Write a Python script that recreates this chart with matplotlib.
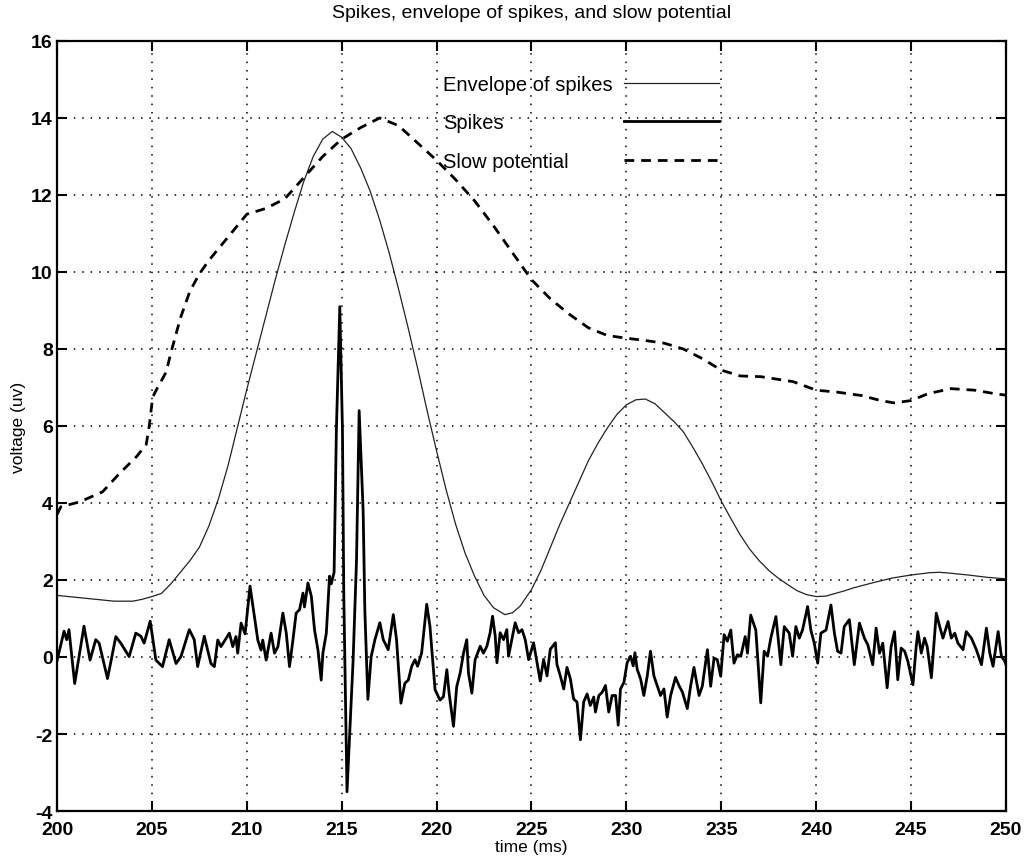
import matplotlib
matplotlib.use('Agg')
import matplotlib.pyplot as plt

# Data
# Spikes trace (time in ms, voltage in uv)
spike_t = [200.0, 200.37, 200.51, 200.63, 200.93, 201.42, 201.74, 202.04, 202.22, 202.66,
           203.10, 203.36, 203.80, 204.15, 204.42, 204.59, 204.91, 205.21, 205.56, 205.91,
           206.27, 206.53, 206.97, 207.23, 207.41, 207.76, 208.11, 208.29, 208.47, 208.64,
           209.08, 209.26, 209.43, 209.52, 209.70, 209.91, 210.17, 210.40, 210.58, 210.75,
           210.84, 211.02, 211.28, 211.46, 211.64, 211.90, 212.08, 212.25, 212.43, 212.60,
           212.78, 212.96, 213.04, 213.22, 213.40, 213.57, 213.75, 213.92, 214.01, 214.19,
           214.36, 214.45, 214.60, 214.72, 214.90, 215.04, 215.11, 215.28, 215.60, 215.78,
           215.92, 216.13, 216.22, 216.38, 216.55, 216.75, 217.01, 217.19, 217.45, 217.72,
           217.89, 218.12, 218.33, 218.51, 218.69, 218.86, 219.00, 219.21, 219.48, 219.65,
           219.92, 220.18, 220.36, 220.54, 220.66, 220.89, 221.06, 221.24, 221.42, 221.59,
           221.68, 221.86, 222.03, 222.30, 222.47, 222.65, 222.82, 222.95, 223.09, 223.18,
           223.35, 223.53, 223.70, 223.79, 224.14, 224.32, 224.50, 224.67, 224.85, 225.11,
           225.46, 225.64, 225.82, 225.99, 226.26, 226.34, 226.52, 226.70, 226.87, 227.05,
           227.22, 227.40, 227.58, 227.75, 227.93, 228.10, 228.28, 228.37, 228.55, 228.72,
           228.90, 229.07, 229.25, 229.43, 229.57, 229.69, 229.87, 230.04, 230.22, 230.36,
           230.45, 230.57, 230.75, 230.92, 231.10, 231.27, 231.45, 231.62, 231.80, 231.98,
           232.15, 232.33, 232.59, 232.77, 232.95, 233.21, 233.39, 233.56, 233.83, 234.00,
           234.27, 234.44, 234.62, 234.79, 234.97, 235.15, 235.32, 235.50, 235.67, 235.85,
           236.03, 236.26, 236.38, 236.55, 236.82, 237.08, 237.26, 237.44, 237.61, 237.88,
           238.14, 238.32, 238.58, 238.76, 238.93, 239.11, 239.28, 239.55, 239.72, 239.90,
           240.08, 240.25, 240.52, 240.78, 240.96, 241.13, 241.31, 241.48, 241.75, 242.01,
           242.28, 242.54, 242.72, 242.98, 243.16, 243.34, 243.51, 243.74, 243.95, 244.13,
           244.30, 244.48, 244.66, 244.83, 245.10, 245.27, 245.36, 245.54, 245.71, 245.85,
           246.07, 246.33, 246.51, 246.68, 246.95, 247.12, 247.30, 247.47, 247.74, 247.91,
           248.18, 248.44, 248.71, 248.97, 249.15, 249.32, 249.59, 249.76, 249.94, 250.0]
spike_v = [-0.10, 0.67, 0.45, 0.71, -0.69, 0.80, -0.08, 0.45, 0.36, -0.56,
           0.53, 0.36, 0.01, 0.62, 0.54, 0.36, 0.93, -0.08, -0.25, 0.45,
           -0.17, 0.01, 0.71, 0.45, -0.25, 0.54, -0.17, -0.25, 0.44, 0.27,
           0.62, 0.27, 0.53, 0.10, 0.88, 0.60, 1.84, 1.05, 0.44, 0.18,
           0.44, -0.08, 0.62, 0.10, 0.27, 1.14, 0.62, -0.25, 0.44, 1.14,
           1.23, 1.66, 1.30, 1.92, 1.58, 0.70, 0.18, -0.60, 0.10, 0.62,
           2.10, 1.90, 2.20, 5.90, 9.10, 5.90, 1.60, -3.50, -0.10, 2.50,
           6.40, 3.80, 1.20, -1.10, 0.00, 0.45, 0.89, 0.45, 0.19, 1.10,
           0.45, -1.20, -0.68, -0.60, -0.24, -0.07, -0.24, 0.10, 1.37, 0.80,
           -0.85, -1.12, -1.03, -0.33, -0.94, -1.80, -0.77, -0.42, 0.10, 0.45,
           -0.42, -0.94, -0.07, 0.28, 0.10, 0.28, 0.63, 1.06, 0.54, -0.15,
           0.63, 0.45, 0.71, 0.02, 0.89, 0.63, 0.71, 0.45, -0.07, 0.37,
           -0.62, -0.06, -0.49, 0.20, 0.37, -0.19, -0.49, -0.83, -0.27, -0.57,
           -1.09, -1.17, -2.15, -1.17, -0.96, -1.26, -1.04, -1.43, -1.00, -0.92,
           -0.74, -1.43, -1.00, -1.00, -1.77, -0.83, -0.66, -0.15, 0.02, -0.23,
           0.11, -0.32, -0.57, -1.00, -0.49, 0.15, -0.49, -0.74, -1.00, -0.83,
           -1.56, -1.00, -0.53, -0.74, -0.91, -1.34, -0.74, -0.27, -1.00, -0.76,
           0.19, -0.76, -0.03, -0.07, -0.50, 0.58, 0.41, 0.70, -0.16, 0.06,
           0.02, 0.53, 0.10, 1.09, 0.70, -1.19, 0.15, 0.02, 0.49, 1.05,
           -0.20, 0.79, 0.62, 0.02, 0.79, 0.49, 0.70, 1.31, 0.70, 0.36,
           -0.16, 0.62, 0.70, 1.35, 0.62, 0.15, 0.10, 0.79, 0.97, -0.20,
           0.88, 0.49, 0.32, -0.20, 0.75, 0.10, 0.36, -0.80, 0.27, 0.66,
           -0.59, 0.23, 0.15, -0.11, -0.72, 0.27, 0.66, 0.10, 0.49, 0.27,
           -0.54, 1.14, 0.79, 0.49, 0.92, 0.49, 0.62, 0.36, 0.19, 0.66,
           0.49, 0.19, -0.20, 0.75, 0.10, -0.24, 0.66, 0.02, -0.11, -0.20]

# Envelope of spikes
env_t = [200.0, 201.0, 202.0, 203.0, 204.0, 204.5, 205.0, 205.5, 206.0, 206.5,
         207.0, 207.5, 208.0, 208.5, 209.0, 209.5, 210.0, 210.5, 211.0, 211.5,
         212.0, 212.5, 213.0, 213.5, 214.0, 214.5, 215.0, 215.5, 216.0, 216.5,
         217.0, 217.5, 218.0, 218.5, 219.0, 219.5, 220.0, 220.5, 221.0, 221.5,
         222.0, 222.5, 223.0, 223.6, 224.0, 224.4, 225.0, 225.5, 226.0, 226.5,
         227.0, 227.5, 228.0, 228.5, 229.0, 229.5, 230.0, 230.5, 231.0, 231.5,
         232.0, 232.5, 233.0, 233.5, 234.0, 234.5, 235.0, 235.5, 236.0, 236.5,
         237.0, 237.5, 238.0, 238.5, 239.0, 239.5, 240.0, 240.5, 241.0, 241.5,
         242.0, 243.0, 244.0, 245.0, 246.0, 246.5, 247.0, 248.0, 249.0, 250.0]
env_v = [1.60, 1.55, 1.50, 1.45, 1.45, 1.50, 1.57, 1.65, 1.90, 2.20,
         2.50, 2.85, 3.40, 4.10, 4.95, 5.95, 6.95, 7.90, 8.85, 9.80,
         10.70, 11.55, 12.35, 13.00, 13.45, 13.65, 13.50, 13.20, 12.70, 12.10,
         11.35, 10.50, 9.55, 8.55, 7.50, 6.40, 5.35, 4.35, 3.45, 2.70,
         2.10, 1.60, 1.28, 1.10, 1.15, 1.32, 1.75, 2.25, 2.85, 3.45,
         4.00, 4.55, 5.10, 5.55, 5.95, 6.30, 6.55, 6.68, 6.70, 6.58,
         6.35, 6.12, 5.85, 5.45, 5.02, 4.55, 4.05, 3.60, 3.17, 2.80,
         2.50, 2.25, 2.05, 1.88, 1.72, 1.62, 1.57, 1.58, 1.65, 1.72,
         1.80, 1.93, 2.05, 2.13, 2.19, 2.20, 2.18, 2.13, 2.07, 2.03]

# Slow potential
slow_t = [200.0, 200.2, 201.2, 202.4, 203.3, 204.2, 204.7, 204.86, 205.04, 205.3,
          205.75, 206.0, 206.5, 207.0, 207.5, 208.0, 209.0, 210.0, 211.0, 212.0,
          213.0, 214.0, 215.0, 216.0, 217.0, 218.0, 219.0, 220.0, 221.0, 222.0,
          223.0, 224.0, 225.0, 226.0, 227.0, 228.0, 229.0, 230.0, 231.0, 232.0,
          233.0, 234.0, 235.0, 236.0, 237.1, 238.8, 240.0, 241.1, 242.4, 243.4,
          244.1, 245.0, 245.9, 247.1, 248.35, 249.4, 250.0]
slow_v = [3.70, 3.90, 4.03, 4.29, 4.77, 5.21, 5.52, 6.00, 6.75, 7.00,
          7.40, 7.90, 8.80, 9.50, 9.95, 10.30, 10.90, 11.50, 11.65, 11.90,
          12.45, 13.00, 13.45, 13.75, 14.00, 13.80, 13.35, 12.90, 12.40, 11.85,
          11.20, 10.50, 9.80, 9.30, 8.90, 8.55, 8.35, 8.28, 8.22, 8.15,
          8.00, 7.75, 7.45, 7.30, 7.28, 7.15, 6.93, 6.88, 6.79, 6.66,
          6.60, 6.66, 6.84, 6.97, 6.93, 6.84, 6.80]

plt.rcParams['font.family'] = ['Liberation Sans', 'DejaVu Sans']
plt.rcParams['axes.unicode_minus'] = False

fig = plt.figure(figsize=(10.31, 8.62), dpi=100)
ax = fig.add_axes([0.0553, 0.058, 0.9204, 0.8933])

ax.plot(env_t, env_v, color='#222222', lw=0.9, label='Envelope of spikes')
ax.plot(spike_t, spike_v, color='black', lw=2.0, label='Spikes')
ax.plot(slow_t, slow_v, color='black', lw=2.0, dashes=(3.5, 2.5), label='Slow potential')

ax.set_xlim(200, 250)
ax.set_ylim(-4, 16)
ax.set_xticks(range(200, 251, 5))
ax.set_yticks(range(-4, 17, 2))
ax.grid(True, color='black', linestyle=(0, (1, 4.5)), linewidth=1.1)
ax.tick_params(direction='in', length=7, width=1.5, top=True, right=True,
               labelsize=14, pad=3)
ax.tick_params(axis='x', pad=7)
for lab in ax.get_xticklabels() + ax.get_yticklabels():
    lab.set_fontweight('bold')
for sp in ax.spines.values():
    sp.set_linewidth(1.6)

ax.set_title('Spikes, envelope of spikes, and slow potential', fontsize=14, pad=17)
ax.set_xlabel('time (ms)', fontsize=12.5, labelpad=1)
ax.set_ylabel('voltage (uv)', fontsize=12.5, labelpad=4)

leg = ax.legend(loc='upper left', bbox_to_anchor=(0.3965, 0.9685), frameon=False,
                markerfirst=False, handlelength=4.7, handletextpad=0.55,
                labelspacing=0.95, borderpad=0, fontsize=14.5)

# left-align the labels so that the sample lines line up in one column
fig.canvas.draw()
rend = fig.canvas.get_renderer()
widths = [t.get_window_extent(rend).width for t in leg.get_texts()]
rows = leg._legend_handle_box.get_children()[0].get_children()
for row, w in zip(rows, widths):
    row.sep += (max(widths) - w) * 72.0 / fig.dpi

fig.savefig('out.png', dpi=100)
